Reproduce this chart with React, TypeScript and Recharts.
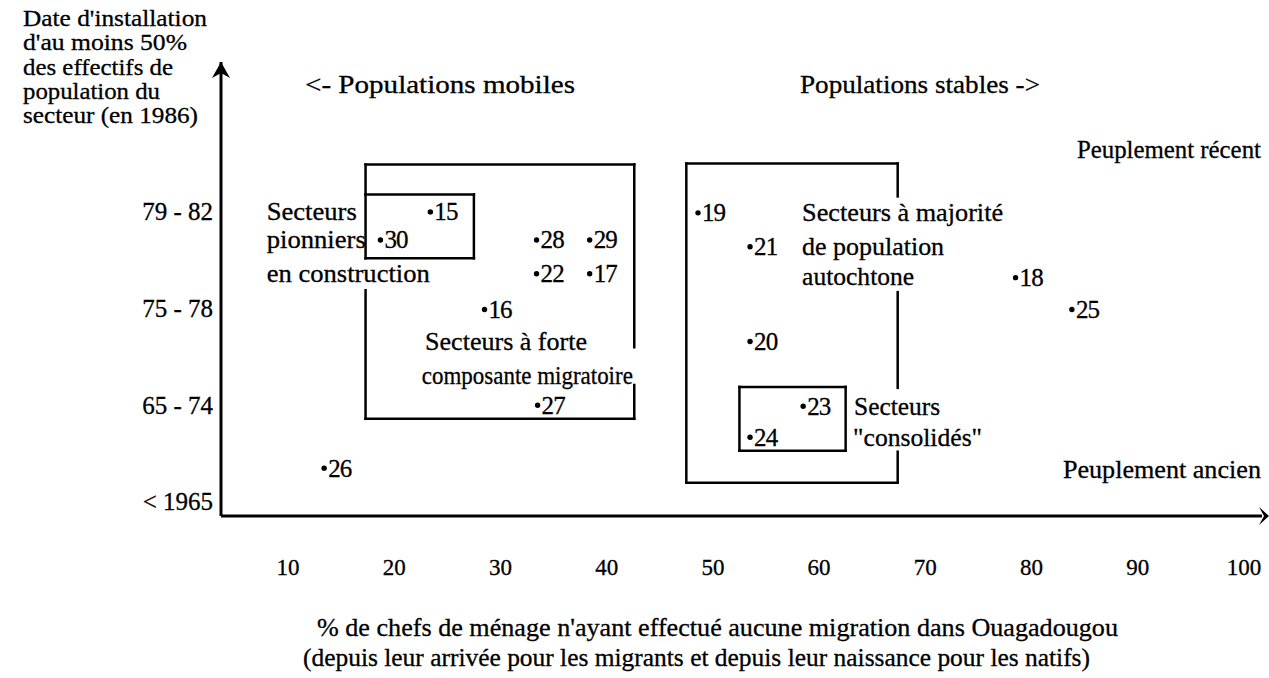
import React from 'react';
import { ScatterChart, Scatter, XAxis, YAxis, ReferenceLine, ReferenceDot } from 'recharts';

// secteurs de Ouagadougou
const sectors = ['15', '30', '28', '29', '22', '17', '16', '27', '26', '19', '21', '20', '23', '24', '18', '25'];
// % de chefs de ménage sans migration intra-urbaine
const noMigrationPct = [23.4, 18.7, 33.4, 38.4, 33.4, 38.4, 28.5, 33.5, 13.4, 48.6, 53.5, 53.5, 58.5, 53.5, 78.5, 83.8];
// période d'installation (0 = < 1965, 1 = 65-74, 2 = 75-78, 3 = 79-82)
const installPeriod = [3.0, 2.71, 2.71, 2.71, 2.36, 2.36, 1.99, 1.0, 0.35, 2.99, 2.64, 1.66, 0.99, 0.67, 2.32, 1.99];

const xTicks = [10, 20, 30, 40, 50, 60, 70, 80, 90, 100];
const yTicks = [0, 1, 2, 3];
const yTickLabels = ['< 1965', '65 - 74', '75 - 78', '79 - 82'];

const titleLines = ["Date d'installation", "d'au moins 50%", 'des effectifs de', 'population du', 'secteur (en 1986)'];
const xTitleLines = [
  "% de chefs de ménage n'ayant effectué aucune migration dans Ouagadougou",
  '(depuis leur arrivée pour les migrants et depuis leur naissance pour les natifs)',
];

// annotations in data coordinates, with their drawn width
const notes = [
  { text: '<- Populations mobiles', x: 11.6, y: 4.32, anchor: 'start', w: 270 },
  { text: 'Populations stables ->', x: 58.2, y: 4.32, anchor: 'start', w: 240 },
  { text: 'Peuplement récent', x: 101.6, y: 3.64, anchor: 'end', w: 184 },
  { text: 'Peuplement ancien', x: 101.6, y: 0.34, anchor: 'end', w: 198 },
  { text: 'Secteurs', x: 8.0, y: 3.0, anchor: 'start', w: 90 },
  { text: 'pionniers', x: 8.0, y: 2.71, anchor: 'start', w: 99 },
  { text: 'en construction', x: 8.0, y: 2.36, anchor: 'start', w: 163 },
  { text: 'Secteurs à forte', x: 22.9, y: 1.66, anchor: 'start', w: 162 },
  { text: 'composante migratoire', x: 22.6, y: 1.31, anchor: 'start', w: 211 },
  { text: 'Secteurs à majorité', x: 58.4, y: 2.99, anchor: 'start', w: 201 },
  { text: 'de population', x: 58.4, y: 2.64, anchor: 'start', w: 142 },
  { text: 'autochtone', x: 58.4, y: 2.33, anchor: 'start', w: 112 },
  { text: 'Secteurs', x: 63.3, y: 0.99, anchor: 'start', w: 86 },
  { text: '"consolidés"', x: 63.2, y: 0.67, anchor: 'start', w: 129 },
];

// box outlines (gaps left where text crosses them)
const boxSegments: [number, number, number, number][] = [
  // forte composante migratoire
  [17.3, 3.49, 42.6, 3.49],
  [17.3, 0.86, 42.6, 0.86],
  [17.3, 3.49, 17.3, 3.18],
  [17.3, 2.19, 17.3, 0.86],
  [42.6, 3.49, 42.6, 1.6],
  [42.6, 1.21, 42.6, 0.86],
  // pionniers
  [17.3, 3.18, 27.5, 3.18],
  [17.3, 2.52, 27.5, 2.52],
  [17.3, 3.18, 17.3, 2.52],
  [27.5, 3.18, 27.5, 2.52],
  // majorité autochtone
  [47.5, 3.5, 67.4, 3.5],
  [47.5, 0.2, 67.4, 0.2],
  [47.5, 3.5, 47.5, 0.2],
  [67.4, 3.5, 67.4, 3.16],
  [67.4, 2.17, 67.4, 1.18],
  [67.4, 0.52, 67.4, 0.2],
  // consolidés
  [52.5, 1.19, 62.5, 1.19],
  [52.5, 0.53, 62.5, 0.53],
  [52.5, 1.19, 52.5, 0.53],
  [62.5, 1.19, 62.5, 0.53],
];

const X_DOMAIN: [number, number] = [3.69, 101.7];
const Y_DOMAIN: [number, number] = [-0.145, 4.55];

const FONT = '"Liberation Serif", "Times New Roman", serif';
const INK = { fill: '#000', stroke: '#000', strokeWidth: 0.3 };

const data = sectors.map((id, i) => ({ id, x: noMigrationPct[i], y: installPeriod[i] }));

const SectorDot = (props: any) => {
  const { cx, cy, payload } = props;
  return (
    <g>
      <circle cx={cx} cy={cy} r={2.7} fill="#000" />
      <text x={cx + 4} y={cy} dominantBaseline="central" fontSize={25} fontFamily={FONT} letterSpacing={-0.9} {...INK}>
        {payload.id}
      </text>
    </g>
  );
};

const XTick = (props: any) => {
  const { x, y, payload } = props;
  return (
    <text x={x} y={y} textAnchor="middle" dominantBaseline="central" fontSize={23} fontFamily={FONT} {...INK}>
      {payload.value}
    </text>
  );
};

const YTick = (props: any) => {
  const { x, y, payload } = props;
  return (
    <text x={x} y={y} textAnchor="end" dominantBaseline="central" fontSize={25} fontFamily={FONT} {...INK}>
      {yTickLabels[payload.value]}
    </text>
  );
};

const noteShape = (text: string, anchor: string, w: number) => (props: any) => (
  <text
    x={props.cx}
    y={props.cy}
    textAnchor={anchor}
    dominantBaseline="central"
    fontSize={25}
    fontFamily={FONT}
    textLength={w}
    lengthAdjust="spacingAndGlyphs"
    {...INK}
  >
    {text}
  </text>
);

const UpArrow = (props: any) => {
  const { cx, cy } = props;
  return <path d={`M${cx},${cy} L${cx - 9},${cy + 16} L${cx},${cy + 11} L${cx + 9},${cy + 16} Z`} fill="#000" />;
};

const RightArrow = (props: any) => {
  const { cx, cy } = props;
  const tx = cx + 7;
  return <path d={`M${tx},${cy} L${tx - 10},${cy - 9} L${tx - 5},${cy} L${tx - 10},${cy + 9} Z`} fill="#000" />;
};

const titleWidths = [184, 164, 150, 137, 175];

export default function App() {
  return (
    <div style={{ position: 'absolute', left: 0, top: 0, width: 1269, height: 678, background: '#fff' }}>
      <ScatterChart width={1269} height={678} margin={{ top: 62, right: 7, left: 121, bottom: 112 }}>
        <XAxis
          type="number"
          dataKey="x"
          domain={X_DOMAIN}
          allowDataOverflow
          ticks={xTicks}
          tick={<XTick />}
          tickLine={false}
          tickSize={0}
          tickMargin={51}
          height={50}
          axisLine={{ stroke: '#000', strokeWidth: 3 }}
        />
        <YAxis
          type="number"
          dataKey="y"
          domain={Y_DOMAIN}
          allowDataOverflow
          ticks={yTicks}
          tick={<YTick />}
          tickLine={false}
          tickSize={0}
          tickMargin={8}
          width={100}
          axisLine={{ stroke: '#000', strokeWidth: 3 }}
        />
        {boxSegments.map((s, i) => (
          <ReferenceLine
            key={`seg-${i}`}
            segment={[{ x: s[0], y: s[1] }, { x: s[2], y: s[3] }]}
            stroke="#000"
            strokeWidth={2.5}
            strokeLinecap="square"
            ifOverflow="visible"
          />
        ))}
        {notes.map((n, i) => (
          <ReferenceDot key={`note-${i}`} x={n.x} y={n.y} r={0} ifOverflow="visible" shape={noteShape(n.text, n.anchor, n.w)} />
        ))}
        <ReferenceDot x={X_DOMAIN[0]} y={Y_DOMAIN[1]} ifOverflow="visible" shape={UpArrow} />
        <ReferenceDot x={X_DOMAIN[1]} y={Y_DOMAIN[0]} ifOverflow="visible" shape={RightArrow} />
        <Scatter data={data} shape={SectorDot} isAnimationActive={false} />
      </ScatterChart>
      <svg
        width={1269}
        height={678}
        style={{ position: 'absolute', left: 0, top: 0, pointerEvents: 'none' }}
        fontFamily={FONT}
      >
        {titleLines.map((line, i) => (
          <text
            key={line}
            x={23}
            y={18 + i * 24.3}
            dominantBaseline="central"
            fontSize={24}
            textLength={titleWidths[i]}
            lengthAdjust="spacingAndGlyphs"
            {...INK}
          >
            {line}
          </text>
        ))}
        <text x={317} y={627} dominantBaseline="central" fontSize={25} textLength={801} lengthAdjust="spacingAndGlyphs" {...INK}>
          {xTitleLines[0]}
        </text>
        <text x={303} y={657} dominantBaseline="central" fontSize={25} textLength={787} lengthAdjust="spacingAndGlyphs" {...INK}>
          {xTitleLines[1]}
        </text>
      </svg>
    </div>
  );
}
